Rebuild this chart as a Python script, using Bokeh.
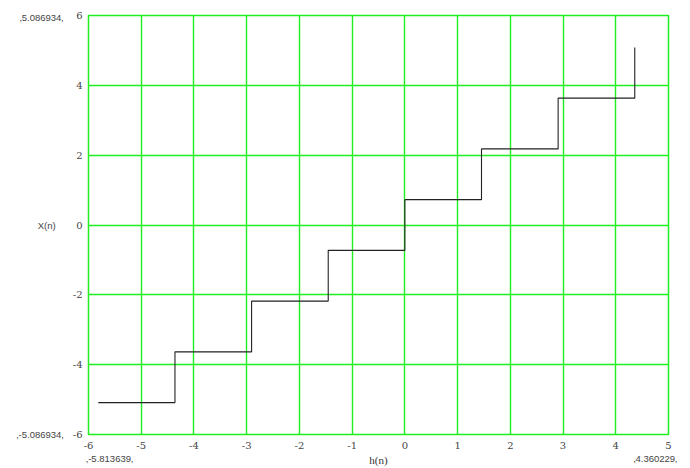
from bokeh.plotting import figure
from bokeh.models import Range1d, FixedTicker, LinearAxis
from bokeh.embed import file_html
from bokeh.resources import INLINE

# Data (quantizer staircase)
h_n = [-5.813639, -4.360229, -2.906820, -1.453410, 0.0, 1.453410, 2.906820, 4.360229]
X_n = [-5.086934, -3.633525, -2.180115, -0.726705, 0.726705, 2.180115, 3.633525, 5.086934]

x_ticks = [-6, -5, -4, -3, -2, -1, 0, 1, 2, 3, 4, 5]
x_tick_labels = ["-6", "-5", "-4", "-3", "-2", "-1", "0", "1", "2", "3", "4", "5"]
y_ticks = [-6, -4, -2, 0, 2, 4, 6]
y_tick_labels = ["-6", "-4", "-2", "0", "2", "4", "6"]
x_min, x_max = -6, 5
y_min, y_max = -6, 6

# positions of the limit / name labels (outer rows)
x_outer_ticks = [-5.6, 4.75]
y_outer_ticks = [5.94, 0, -6]

W, H = 690, 468
L, R, T, B = 88, 22, 15, 32

GREEN = "#1ef01e"
SERIF = "DejaVu Serif"
SANS = "Liberation Sans"

p = figure(width=W, height=H, output_backend="svg", toolbar_location=None,
           x_range=Range1d(x_min, x_max), y_range=Range1d(y_min, y_max),
           min_border_left=L, min_border_right=R, min_border_top=T, min_border_bottom=B)

p.background_fill_color = "white"
p.border_fill_color = "white"
p.outline_line_color = GREEN
p.outline_line_width = 1.5

xa = p.xaxis[0]
ya = p.yaxis[0]
xa.ticker = FixedTicker(ticks=x_ticks)
ya.ticker = FixedTicker(ticks=y_ticks)
xa.major_label_overrides = dict(zip(x_ticks, x_tick_labels))
ya.major_label_overrides = dict(zip(y_ticks, y_tick_labels))
for ax in (xa, ya):
    ax.axis_line_color = None
    ax.major_tick_line_color = None
    ax.minor_tick_line_color = None
    ax.major_tick_out = 0
    ax.major_tick_in = 0
    ax.minor_tick_out = 0
    ax.major_label_text_font = SERIF
    ax.major_label_text_font_style = "normal"
    ax.major_label_text_font_size = "10px"
    ax.major_label_text_color = "#444444"
xa.major_label_standoff = 7
ya.major_label_standoff = 6

xg = p.xgrid[0]
yg = p.ygrid[0]
xg.ticker = FixedTicker(ticks=x_ticks)
yg.ticker = FixedTicker(ticks=y_ticks)
for g in (xg, yg):
    g.grid_line_color = GREEN
    g.grid_line_width = 1.4
    g.grid_line_alpha = 1.0

p.step(h_n, X_n, mode="after", line_color="#222222", line_width=1.1)

# outer rows: limits and variable names
bx = LinearAxis(ticker=FixedTicker(ticks=x_outer_ticks),
                major_label_overrides={x_outer_ticks[0]: "\u201a%.6f\u201a" % min(h_n),
                                       x_outer_ticks[1]: "\u201a%.6f\u201a" % max(h_n)},
                axis_label="h(n)", axis_label_standoff=-13,
                axis_label_text_font="Liberation Serif", axis_label_text_font_style="normal",
                axis_label_text_font_size="11px", axis_label_text_color="#333333")
ly = LinearAxis(ticker=FixedTicker(ticks=y_outer_ticks),
                major_label_overrides={y_outer_ticks[0]: "\u201a%.6f\u201a" % max(X_n),
                                       y_outer_ticks[1]: "X(n)   ",
                                       y_outer_ticks[2]: "\u201a%.6f\u201a" % min(X_n)})
for ax in (bx, ly):
    ax.axis_line_color = None
    ax.major_tick_line_color = None
    ax.minor_tick_line_color = None
    ax.major_tick_out = 0
    ax.major_tick_in = 0
    ax.minor_tick_out = 0
    ax.major_label_text_font = SANS
    ax.major_label_text_font_size = "9.5px"
    ax.major_label_text_color = "#444444"
bx.major_label_standoff = 1
ly.major_label_standoff = 6
p.add_layout(bx, "below")
p.add_layout(ly, "left")

open("out.html", "w").write(file_html(p, INLINE))
